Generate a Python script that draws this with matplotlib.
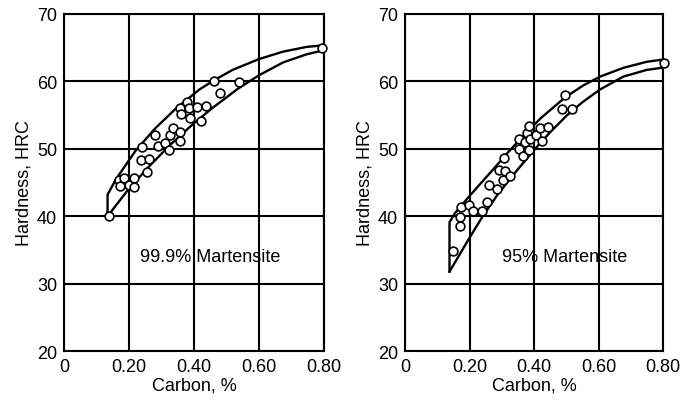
import matplotlib
matplotlib.use("Agg")
import matplotlib.pyplot as plt

plt.rcParams['font.family'] = ['Liberation Sans', 'DejaVu Sans']

# 99.9% martensite
pts1_c = [0.137, 0.170, 0.172, 0.185, 0.201, 0.214, 0.216, 0.237, 0.240, 0.254, 0.263,
          0.281, 0.288, 0.311, 0.324, 0.326, 0.335, 0.358, 0.358, 0.358, 0.360, 0.378,
          0.386, 0.388, 0.409, 0.422, 0.436, 0.463, 0.481, 0.537, 0.793]
pts1_h = [40.1, 45.3, 44.5, 45.7, 44.7, 44.3, 45.7, 48.3, 50.3, 46.6, 48.5,
          52.0, 50.4, 50.9, 49.8, 52.1, 53.1, 52.5, 51.2, 56.1, 55.1, 57.0,
          56.0, 54.6, 56.2, 54.1, 56.3, 60.0, 58.3, 59.9, 65.0]
up1_c = [0.134, 0.134, 0.16, 0.22, 0.28, 0.345, 0.417, 0.463, 0.519, 0.60, 0.674, 0.746, 0.79]
up1_h = [40.0, 43.2, 45.5, 49.7, 53.0, 56.0, 58.8, 60.2, 61.7, 63.3, 64.4, 65.1, 65.3]
lo1_c = [0.134, 0.20, 0.264, 0.325, 0.40, 0.458, 0.535, 0.60, 0.674, 0.746, 0.79]
lo1_h = [40.0, 44.1, 47.5, 50.5, 53.8, 56.1, 58.9, 60.9, 62.8, 64.0, 64.5]

# 95% martensite
pts2_c = [0.150, 0.169, 0.171, 0.173, 0.197, 0.212, 0.238, 0.254, 0.262, 0.285, 0.290,
          0.303, 0.307, 0.311, 0.326, 0.352, 0.352, 0.366, 0.373, 0.378, 0.383, 0.386,
          0.388, 0.407, 0.419, 0.426, 0.442, 0.487, 0.497, 0.518, 0.802]
pts2_h = [34.8, 38.5, 39.9, 41.3, 41.7, 40.8, 40.8, 42.1, 44.7, 44.0, 46.8,
          45.3, 48.7, 46.7, 45.9, 51.4, 49.9, 49.0, 51.0, 52.4, 53.4, 49.8,
          51.4, 52.1, 53.1, 51.2, 53.2, 55.9, 57.9, 55.9, 62.7]
up2_c = [0.138, 0.138, 0.154, 0.20, 0.267, 0.318, 0.369, 0.42, 0.496, 0.553, 0.605,
         0.677, 0.75, 0.796]
up2_h = [31.8, 39.1, 40.4, 43.0, 46.6, 49.4, 52.0, 54.5, 57.6, 59.4, 60.7,
         62.0, 62.9, 63.2]
lo2_c = [0.138, 0.20, 0.241, 0.287, 0.349, 0.40, 0.451, 0.503, 0.55, 0.605, 0.677,
         0.75, 0.796]
lo2_h = [31.8, 36.8, 40.0, 43.2, 46.9, 49.8, 52.5, 55.0, 56.9, 58.8, 60.7,
         61.7, 62.0]

x_ticks = [0, 0.2, 0.4, 0.6, 0.8]
x_labels = ['0', '0.20', '0.40', '0.60', '0.80']
y_ticks = [20, 30, 40, 50, 60, 70]

panels = [
    ([64/692, 0.124, 260/692, 0.839], pts1_c, pts1_h, up1_c, up1_h, lo1_c, lo1_h,
     '99.9% Martensite', 0.45),
    ([405/692, 0.124, 258/692, 0.839], pts2_c, pts2_h, up2_c, up2_h, lo2_c, lo2_h,
     '95% Martensite', 0.495),
]

fig = plt.figure(figsize=(6.92, 4.02), dpi=100)
for rect, pc, ph, uc, uh, lc, lh, label, tx in panels:
    ax = fig.add_axes(rect)
    ax.set_xlim(0, 0.8)
    ax.set_ylim(20, 70)
    ax.set_xticks(x_ticks)
    ax.set_xticklabels(x_labels)
    ax.set_yticks(y_ticks)
    ax.grid(True, color='black', linewidth=1.5)
    ax.set_axisbelow(True)
    for s in ax.spines.values():
        s.set_linewidth(1.5)
    ax.tick_params(length=0, labelsize=13, pad=5)
    ax.plot(uc, uh, color='black', linewidth=1.7, zorder=3)
    ax.plot(lc, lh, color='black', linewidth=1.7, zorder=3)
    ax.plot(pc, ph, 'o', markersize=6.3, markerfacecolor='white',
            markeredgecolor='black', markeredgewidth=1.2, zorder=4, clip_on=False)
    ax.text(tx, 34, label, ha='center', va='center', fontsize=13, zorder=5)
    ax.set_xlabel('Carbon, %', fontsize=13, labelpad=1)
    ax.set_ylabel('Hardness, HRC', fontsize=13, labelpad=3)

fig.savefig('out.png', dpi=100)
